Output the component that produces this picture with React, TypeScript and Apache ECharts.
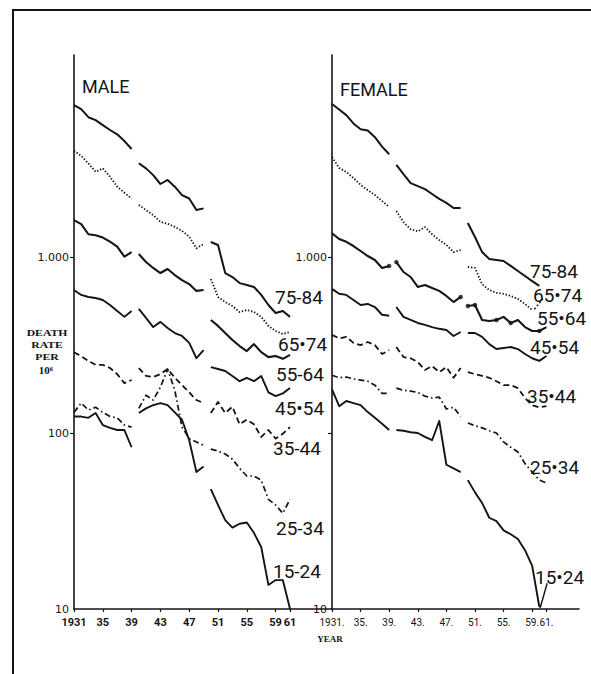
import React, { useEffect, useRef } from "react";
import * as echarts from "echarts";

// ---------- data ----------
const YEARS: number[] = Array.from({ length: 31 }, (_, i) => 1931 + i);
const BREAK_AFTER = [1939, 1949];
const X_TICKS = [1931, 1935, 1939, 1943, 1947, 1951, 1955, 1959, 1961];
const MALE_Y_TICKS = [10, 100, 1000];
const FEMALE_Y_LABELS = [10, 1000];

const AGE_GROUPS = ["75-84", "65-74", "55-64", "45-54", "35-44", "25-34", "15-24"];
const MALE_LABELS = ["75-84", "65•74", "55-64", "45•54", "35-44", "25-34", "15-24"];
const FEMALE_LABELS = ["75-84", "65•74", "55•64", "45•54", "35•44", "25•34", "15•24"];

// death rate per million, 1931..1961 (null = not drawn)
const MALE_75_84 = [7300, 6930, 6230, 6000, 5620, 5270, 4980, 4560, 4110, 3410, 3190, 2920, 2600, 2740, 2510, 2250, 2150, 1850, 1890, 1218, 1170, 811, 770, 711, 693, 676, 609, 534, 481, 494, 457];
const MALE_65_74 = [4020, 3750, 3410, 3050, 3190, 2860, 2510, 2320, 2150, 1977, 1850, 1730, 1585, 1545, 1483, 1407, 1305, 1121, 1186, 750, 593, 555, 527, 487, 500, 487, 457, 406, 380, 365, 375];
const MALE_55_64 = [1620, 1537, 1347, 1330, 1290, 1222, 1146, 1004, 1067, 1040, 937, 867, 811, 855, 790, 740, 702, 642, 650, 439, 406, 370, 338, 312, 292, 320, 288, 270, 274, 264, 278];
const MALE_45_54 = [650, 609, 593, 585, 570, 534, 494, 457, 494, 507, 451, 400, 428, 395, 370, 356, 325, 266, 296, 237, 231, 225, 211, 197, 206, 197, 211, 170, 162, 168, 180];
const MALE_35_44 = [288, 273, 257, 244, 244, 234, 216, 192, 200, 234, 211, 208, 216, 231, 206, 187, 170, 154, 148, 130, 150, 130, 141, 112, 119, 112, 95, 104, 93, 99, 108];
const MALE_25_34 = [131, 148, 135, 140, 131, 124, 122, 111, 108, 138, 164, 154, 182, 231, 175, 108, 93, 89, 85, 81, 79, 76, 71, 63, 57, 57, 54, 42, 39, 35, 42];
const MALE_15_24 = [124, 124, 122, 130, 111, 107, 104, 104, 83, 130, 138, 144, 148, 144, 131, 119, 91, 60, 64.5, 48, 39, 32, 29, 30.5, 31, 27, 22.5, 13.7, 14.6, 14.6, 10];

const FEMALE_75_84 = [7400, 6890, 6400, 5740, 5320, 5230, 4800, 4240, 3840, 3340, 2960, 2630, 2530, 2430, 2280, 2140, 2030, 1900, 1900, 1560, 1300, 1067, 974, 962, 950, 890, 833, 780, 730, 685, null];
const FEMALE_65_74 = [3700, 3210, 3040, 2810, 2570, 2400, 2250, 2080, 1925, 1826, 1578, 1439, 1400, 1478, 1347, 1250, 1170, 1067, 1096, 878, 867, 700, 650, 626, 618, 601, 578, 541, 500, null, null];
const FEMALE_55_64 = [1365, 1266, 1220, 1155, 1082, 1013, 962, 867, 890, 936, 822, 770, 676, 693, 667, 642, 601, 555, 593, 527, 534, 439, 433, 439, 457, 422, 439, 400, 380, 380, 400];
const FEMALE_45_54 = [659, 618, 609, 570, 534, 541, 520, 470, 464, 520, 457, 439, 422, 412, 400, 391, 385, 356, 375, 370, 370, 352, 320, 300, 304, 308, 300, 281, 266, 257, 274];
const FEMALE_35_44 = [361, 345, 352, 325, 316, 329, 316, 281, 296, 308, 270, 266, 253, 228, 240, 222, 237, 206, 234, 222, 216, 211, 206, 197, 187, 187, 180, 158, 144, 140, 142];
const FEMALE_25_34 = [213, 206, 208, 203, 200, 197, 187, 168, 168, 180, 175, 173, 170, 162, 158, 160, 137, 140, 124, 114, 110, 107, 103, 100, 89, 83, 78, 67, 60, 54, 52];
const FEMALE_15_24 = [177, 142, 152, 148, 144, 131.5, 122, 113, 104, 104, 103, 101, 100, 95, 91, 117, 66, 63, 60, 54, 46, 40, 33, 31.6, 28, 26.6, 25, 21.6, 17.6, 10.3, null];

const FEMALE_55_64_DOT_YEARS = [1939, 1940, 1949, 1950, 1951, 1954, 1956, 1960];
// label leader strokes (year, value)
const FEMALE_15_24_LEADER = [[1960.1, 10.1], [1961.1, 14]];
const FEMALE_65_74_LEADER = [[1959.3, 505], [1960.5, 578]];

const MALE_SERIES = [MALE_75_84, MALE_65_74, MALE_55_64, MALE_45_54, MALE_35_44, MALE_25_34, MALE_15_24];
const FEMALE_SERIES = [FEMALE_75_84, FEMALE_65_74, FEMALE_55_64, FEMALE_45_54, FEMALE_35_44, FEMALE_25_34, FEMALE_15_24];

const Y_TITLE_LINES = ["DEATH", "RATE", "PER", "10⁶"];

// ---------- styles / layout ----------
const INK = "#141414";
const LINE_STYLES: any[] = [
  { type: "solid", width: 2 },
  { type: [1.4, 1.8], width: 1.8 },
  { type: "solid", width: 2.1 },
  { type: "solid", width: 1.9 },
  { type: [6, 3.5], width: 1.8 },
  { type: [6, 3, 1.6, 3], width: 1.7 },
  { type: "solid", width: 1.9 },
];
const MALE_LABEL_POS = [[275, 297], [278, 344], [276, 374], [275, 408], [273, 448], [276, 528], [273, 571]];
const FEMALE_LABEL_POS = [[530, 271], [533, 295], [537, 318], [530, 347], [527, 396], [530, 467], [535, 577]];

function toData(values: (number | null)[]) {
  const out: any[] = [];
  values.forEach((v, i) => {
    const yr = YEARS[i];
    out.push([yr, v == null ? "-" : v]);
    if (BREAK_AFTER.includes(yr)) out.push([yr + 0.5, "-"]);
  });
  return out;
}

function lineSeries(values: (number | null)[], idx: number, k: number) {
  return {
    type: "line",
    name: AGE_GROUPS[k],
    xAxisIndex: idx,
    yAxisIndex: idx,
    data: toData(values),
    showSymbol: false,
    symbol: "none",
    connectNulls: false,
    silent: true,
    lineStyle: { color: INK, width: LINE_STYLES[k].width, type: LINE_STYLES[k].type, join: "round" },
  };
}

const App: React.FC = () => {
  const ref = useRef<HTMLDivElement>(null);
  useEffect(() => {
    if (!ref.current) return;
    const chart = echarts.init(ref.current, undefined, { renderer: "svg" });
    const xAxisCommon = (max: number, female: boolean, gi: number) => ({
      type: "value",
      gridIndex: gi,
      min: 1931,
      max,
      splitLine: { show: false },
      axisLine: { show: true, onZero: false, lineStyle: { color: INK, width: 1.6 } },
      axisTick: { show: true, customValues: X_TICKS, length: 3, lineStyle: { color: INK, width: 1.2 } },
      axisLabel: {
        show: true,
        customValues: X_TICKS,
        showMinLabel: true,
        showMaxLabel: true,
        hideOverlap: false,
        margin: 8,
        color: INK,
        fontFamily: "Roboto",
        fontWeight: female ? "normal" : "bold",
        fontSize: female ? 10 : 11,
        formatter: (v: number) => {
          const s = v === 1931 ? "1931" : String(v).slice(2);
          return female ? s + "." : s;
        },
      },
    });
    const yAxisCommon = (gi: number, labels: number[]) => ({
      type: "log",
      gridIndex: gi,
      min: 10,
      max: 14060,
      splitLine: { show: false },
      minorTick: { show: false },
      axisLine: { show: true, onZero: false, lineStyle: { color: INK, width: 1.6 } },
      axisTick: { show: true, customValues: [100, 1000], length: 4, lineStyle: { color: INK, width: 1.2 } },
      axisLabel: {
        show: true,
        customValues: labels,
        margin: 5,
        color: INK,
        fontFamily: "DejaVu Sans",
        fontSize: 11,
        formatter: (v: number) => (v >= 1000 ? "1.000" : String(v)),
      },
    });

    const series: any[] = [];
    MALE_SERIES.forEach((vals, k) => series.push(lineSeries(vals, 0, k)));
    FEMALE_SERIES.forEach((vals, k) => series.push(lineSeries(vals, 1, k)));
    series.push({
      type: "scatter",
      xAxisIndex: 1,
      yAxisIndex: 1,
      symbolSize: 4.5,
      silent: true,
      itemStyle: { color: INK },
      data: FEMALE_55_64_DOT_YEARS.map((y) => [y, FEMALE_55_64[y - 1931]]),
    });
    [FEMALE_15_24_LEADER, FEMALE_65_74_LEADER].forEach((d, i) =>
      series.push({
        type: "line",
        xAxisIndex: 1,
        yAxisIndex: 1,
        data: d,
        showSymbol: false,
        symbol: "none",
        silent: true,
        lineStyle: { color: INK, width: 1.4, type: i === 0 ? "solid" : [2, 2] },
      })
    );

    const labelText = (text: string, x: number, y: number) => ({
      type: "text",
      x,
      y,
      silent: true,
      style: { text, fill: INK, font: '19px Roboto, "DejaVu Sans", sans-serif', textVerticalAlign: "middle", textAlign: "left" },
    });
    const graphics: any[] = [
      { type: "line", silent: true, shape: { x1: 12, y1: 10, x2: 591, y2: 10 }, style: { stroke: INK, lineWidth: 2 } },
      { type: "line", silent: true, shape: { x1: 13, y1: 10, x2: 13, y2: 674 }, style: { stroke: INK, lineWidth: 2 } },
      { type: "text", x: 82, y: 86, silent: true, style: { text: "MALE", fill: INK, font: "18px Roboto, sans-serif", textVerticalAlign: "middle" } },
      { type: "text", x: 340, y: 89, silent: true, style: { text: "FEMALE", fill: INK, font: "18px Roboto, sans-serif", textVerticalAlign: "middle" } },
      ...Y_TITLE_LINES.map((t, i) => ({
        type: "text",
        x: i === 3 ? 46 : 47,
        y: [333, 345, 357, 370][i],
        scaleX: i === 3 ? 1 : 1.3,
        silent: true,
        style: {
          text: t,
          fill: INK,
          font: i === 3 ? 'bold 11px "Liberation Serif", serif' : 'bold 9px "Liberation Serif", serif',
          textAlign: "center",
          textVerticalAlign: "middle",
        },
      })),
      { type: "text", x: 330, y: 639, silent: true, style: { text: "YEAR", fill: INK, font: 'bold 9px "Liberation Serif", serif', textAlign: "center", textVerticalAlign: "middle" } },
      ...MALE_LABELS.map((t, i) => labelText(t, MALE_LABEL_POS[i][0], MALE_LABEL_POS[i][1])),
      ...FEMALE_LABELS.map((t, i) => labelText(t, FEMALE_LABEL_POS[i][0], FEMALE_LABEL_POS[i][1])),
    ];

    chart.setOption({
      animation: false,
      backgroundColor: "#ffffff",
      grid: [
        { left: 74, top: 55, width: 258, height: 554 },
        { left: 332, top: 55, width: 247, height: 554 },
      ],
      xAxis: [xAxisCommon(1966.83, false, 0), xAxisCommon(1965.55, true, 1)],
      yAxis: [yAxisCommon(0, MALE_Y_TICKS), yAxisCommon(1, FEMALE_Y_LABELS)],
      series,
      graphic: graphics,
    });
    return () => chart.dispose();
  }, []);
  return <div ref={ref} style={{ position: "absolute", left: 0, top: 0, width: 591, height: 674, background: "#fff" }} />;
};

export default App;
